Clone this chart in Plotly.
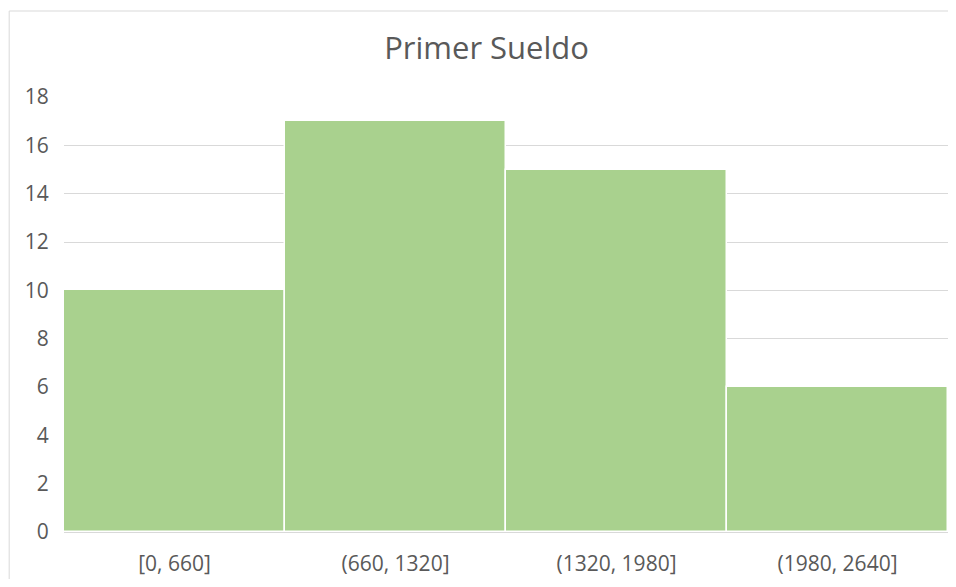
import plotly.graph_objects as go

# histogram bins and counts
bins = ['[0, 660]', '(660, 1320]', '(1320, 1980]', '(1980, 2640]']
counts = [10, 17, 15, 6]
y_ticks = [0, 2, 4, 6, 8, 10, 12, 14, 16, 18]

font = 'Open Sans, Noto Sans, sans-serif'
grey = '#595959'

fig = go.Figure(go.Bar(
    x=bins, y=counts,
    marker=dict(color='#A9D18E', line=dict(color='white', width=1.5)),
))

# page body has an 8px margin, so the figure is shifted back by that much
fig.update_layout(
    width=940, height=571,
    margin=dict(l=56, r=0, t=89, b=47),
    paper_bgcolor='white', plot_bgcolor='white',
    bargap=0,
    showlegend=False,
    title=dict(text='Primer Sueldo', x=0.478, xref='paper', xanchor='center',
               y=0.93, yanchor='middle',
               font=dict(family=font, size=31, color=grey)),
    font=dict(family=font, size=21, color=grey),
)
fig.update_xaxes(
    showgrid=False, showline=True, linecolor='#D9D9D9', linewidth=1,
    ticks='outside', ticklen=13, tickcolor='rgba(0,0,0,0)',
    tickfont=dict(size=21, color=grey),
)
fig.update_yaxes(
    range=[0, 18], tickvals=y_ticks, showgrid=True, gridcolor='#D9D9D9', gridwidth=1,
    zeroline=False, showline=False,
    ticks='outside', ticklen=10, tickcolor='rgba(0,0,0,0)',
    tickfont=dict(size=21, color=grey),
)

# outer chart frame (partly cropped in the original)
fig.add_shape(type='rect', xref='paper', yref='paper',
              x0=-0.062, x1=1.2, y0=-0.3, y1=1.1977,
              line=dict(color='#D9D9D9', width=1), layer='below')

fig.write_html('out.html')
